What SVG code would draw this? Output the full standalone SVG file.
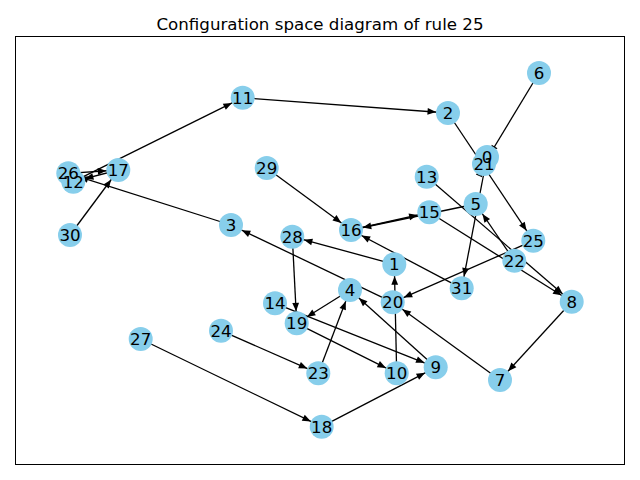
<svg xmlns="http://www.w3.org/2000/svg" width="640" height="480" viewBox="0 0 640 480">
<style>
.e{stroke:#000;stroke-width:1.3;fill:none;marker-end:url(#ah)}
.n circle{fill:#87CEEB}
.n text{font-family:"DejaVu Sans",sans-serif;font-size:16.67px;text-anchor:middle;fill:#000}
.t{font-family:"DejaVu Sans",sans-serif;font-size:16.67px;text-anchor:middle;fill:#000}
</style>
<defs>
<marker id="ah" markerUnits="userSpaceOnUse" orient="auto" refX="0" refY="0" markerWidth="30" markerHeight="30" overflow="visible">
<path d="M -20.5 -3.4 L -12 0 L -20.5 3.4 z" fill="#000"/>
</marker>
</defs>
<rect x="15.5" y="36.5" width="609" height="428" fill="none" stroke="#000" stroke-width="1"/>
<text class="t" x="320" y="29.5">Configuration space diagram of rule 25</text>
<g id="edges">
<line class="e" x1="487" y1="157" x2="461.7" y2="288.3"/>
<line class="e" x1="394.3" y1="264.3" x2="292.3" y2="236.7"/>
<line class="e" x1="448" y1="113" x2="533.3" y2="240.7"/>
<line class="e" x1="231" y1="225" x2="68.3" y2="173.3"/>
<line class="e" x1="350" y1="290" x2="296.7" y2="323.3"/>
<line class="e" x1="475.7" y1="204" x2="351" y2="230"/>
<line class="e" x1="539" y1="73" x2="484" y2="164"/>
<line class="e" x1="500" y1="380" x2="392.7" y2="302.3"/>
<line class="e" x1="571.7" y1="301.7" x2="500" y2="380"/>
<line class="e" x1="435.7" y1="367.3" x2="350" y2="290"/>
<line class="e" x1="396.7" y1="373.3" x2="394.3" y2="264.3"/>
<line class="e" x1="242.7" y1="97.7" x2="448" y2="113"/>
<line class="e" x1="73.3" y1="181.7" x2="242.7" y2="97.7"/>
<line class="e" x1="426.7" y1="176.7" x2="571.7" y2="301.7"/>
<line class="e" x1="275" y1="303.3" x2="435.7" y2="367.3"/>
<line class="e" x1="429.3" y1="212.3" x2="571.7" y2="301.7"/>
<line class="e" x1="351" y1="230" x2="429.3" y2="212.3"/>
<line class="e" x1="118.3" y1="170" x2="73.3" y2="181.7"/>
<line class="e" x1="321.7" y1="426.7" x2="435.7" y2="367.3"/>
<line class="e" x1="296.7" y1="323.3" x2="396.7" y2="373.3"/>
<line class="e" x1="392.7" y1="302.3" x2="231" y2="225"/>
<line class="e" x1="484" y1="164" x2="487" y2="157"/>
<line class="e" x1="514.3" y1="260.7" x2="475.7" y2="204"/>
<line class="e" x1="318.3" y1="373.3" x2="350" y2="290"/>
<line class="e" x1="221" y1="330.7" x2="318.3" y2="373.3"/>
<line class="e" x1="533.3" y1="240.7" x2="392.7" y2="302.3"/>
<line class="e" x1="68.3" y1="173.3" x2="118.3" y2="170"/>
<line class="e" x1="140.7" y1="339" x2="321.7" y2="426.7"/>
<line class="e" x1="292.3" y1="236.7" x2="296.7" y2="323.3"/>
<line class="e" x1="266.7" y1="168" x2="351" y2="230"/>
<line class="e" x1="70" y1="235" x2="118.3" y2="170"/>
<line class="e" x1="461.7" y1="288.3" x2="351" y2="230"/>
</g>
<g id="n0" class="n"><circle cx="487" cy="157" r="12"/></g>
<g id="n1" class="n"><circle cx="394.3" cy="264.3" r="12"/></g>
<g id="n2" class="n"><circle cx="448" cy="113" r="12"/></g>
<g id="n3" class="n"><circle cx="231" cy="225" r="12"/></g>
<g id="n4" class="n"><circle cx="350" cy="290" r="12"/></g>
<g id="n5" class="n"><circle cx="475.7" cy="204" r="12"/></g>
<g id="n6" class="n"><circle cx="539" cy="73" r="12"/></g>
<g id="n7" class="n"><circle cx="500" cy="380" r="12"/></g>
<g id="n8" class="n"><circle cx="571.7" cy="301.7" r="12"/></g>
<g id="n9" class="n"><circle cx="435.7" cy="367.3" r="12"/></g>
<g id="n10" class="n"><circle cx="396.7" cy="373.3" r="12"/></g>
<g id="n11" class="n"><circle cx="242.7" cy="97.7" r="12"/></g>
<g id="n12" class="n"><circle cx="73.3" cy="181.7" r="12"/></g>
<g id="n13" class="n"><circle cx="426.7" cy="176.7" r="12"/></g>
<g id="n14" class="n"><circle cx="275" cy="303.3" r="12"/></g>
<g id="n15" class="n"><circle cx="429.3" cy="212.3" r="12"/></g>
<g id="n16" class="n"><circle cx="351" cy="230" r="12"/></g>
<g id="n17" class="n"><circle cx="118.3" cy="170" r="12"/></g>
<g id="n18" class="n"><circle cx="321.7" cy="426.7" r="12"/></g>
<g id="n19" class="n"><circle cx="296.7" cy="323.3" r="12"/></g>
<g id="n20" class="n"><circle cx="392.7" cy="302.3" r="12"/></g>
<g id="n21" class="n"><circle cx="484" cy="164" r="12"/></g>
<g id="n22" class="n"><circle cx="514.3" cy="260.7" r="12"/></g>
<g id="n23" class="n"><circle cx="318.3" cy="373.3" r="12"/></g>
<g id="n24" class="n"><circle cx="221" cy="330.7" r="12"/></g>
<g id="n25" class="n"><circle cx="533.3" cy="240.7" r="12"/></g>
<g id="n26" class="n"><circle cx="68.3" cy="173.3" r="12"/></g>
<g id="n27" class="n"><circle cx="140.7" cy="339" r="12"/></g>
<g id="n28" class="n"><circle cx="292.3" cy="236.7" r="12"/></g>
<g id="n29" class="n"><circle cx="266.7" cy="168" r="12"/></g>
<g id="n30" class="n"><circle cx="70" cy="235" r="12"/></g>
<g id="n31" class="n"><circle cx="461.7" cy="288.3" r="12"/></g>
<g id="labels" class="n">
<text x="487" y="163">0</text>
<text x="394.3" y="270.3">1</text>
<text x="448" y="119">2</text>
<text x="231" y="231">3</text>
<text x="350" y="296">4</text>
<text x="475.7" y="210">5</text>
<text x="539" y="79">6</text>
<text x="500" y="386">7</text>
<text x="571.7" y="307.7">8</text>
<text x="435.7" y="373.3">9</text>
<text x="396.7" y="379.3">10</text>
<text x="242.7" y="103.7">11</text>
<text x="73.3" y="187.7">12</text>
<text x="426.7" y="182.7">13</text>
<text x="275" y="309.3">14</text>
<text x="429.3" y="218.3">15</text>
<text x="351" y="236">16</text>
<text x="118.3" y="176">17</text>
<text x="321.7" y="432.7">18</text>
<text x="296.7" y="329.3">19</text>
<text x="392.7" y="308.3">20</text>
<text x="484" y="170">21</text>
<text x="514.3" y="266.7">22</text>
<text x="318.3" y="379.3">23</text>
<text x="221" y="336.7">24</text>
<text x="533.3" y="246.7">25</text>
<text x="68.3" y="179.3">26</text>
<text x="140.7" y="345">27</text>
<text x="292.3" y="242.7">28</text>
<text x="266.7" y="174">29</text>
<text x="70" y="241">30</text>
<text x="461.7" y="294.3">31</text>
</g>
</svg>
